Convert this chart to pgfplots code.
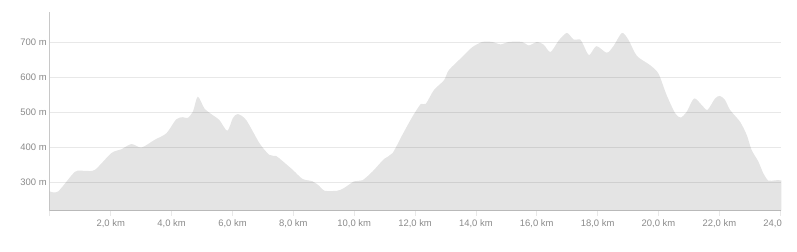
\documentclass[border=0pt]{standalone}
\usepackage{pgfplots}
\pgfplotsset{compat=1.18}
\usepackage{fontspec}
\setmainfont{Liberation Sans}
\definecolor{lbl}{HTML}{8A8A8A}
\definecolor{gridc}{HTML}{E8E8E8}
\definecolor{axc}{HTML}{C8C8C8}
\begin{document}
\begin{tikzpicture}[x=1bp,y=1bp]
\begin{axis}[
  at={(0,0)}, anchor=south west,
  scale only axis, width=733bp, height=199bp,
  xmin=0, xmax=24.04, ymin=218, ymax=788,
  axis x line*=bottom, axis y line*=left,
  x axis line style={-, draw=axc, line width=1.2bp},
  y axis line style={-, draw=axc, line width=0.8bp},
  xtick={2,4,...,24},
  xticklabels={{2,0 km},{4,0 km},{6,0 km},{8,0 km},{10,0 km},{12,0 km},{14,0 km},{16,0 km},{18,0 km},{20,0 km},{22,0 km},{24,0\phantom{ km}}},
  ytick={300,400,...,700},
  yticklabels={300 m,400 m,500 m,600 m,700 m},
  ymajorgrids, grid style={draw=gridc, line width=0.8bp},
  tick align=outside,
  xtick style={draw=gridc, line width=0.8bp},
  x tick label style={font=\fontsize{9.5}{11}\selectfont, text=lbl, inner sep=0pt, anchor=north, yshift=-4bp},
  ytick style={draw=none},
  major tick length=5bp,
  y tick label style={font=\fontsize{9.5}{11}\selectfont, text=lbl, inner sep=0pt, anchor=east, xshift=2bp},
  extra y ticks={218,788}, extra y tick labels={},
  extra y tick style={grid=none, tick style={draw=axc, line width=0.8bp}},
  extra x ticks={0}, extra x tick labels={},
  extra x tick style={tick style={draw=axc, line width=0.8bp}},
  axis on top=false,
]
\addplot[fill=black, fill opacity=0.105, draw=none, smooth, tension=0.45] coordinates {
(0.00,273) (0.27,273) (0.82,329) (1.15,332) (1.48,335) (2.02,383) (2.35,394)
(2.68,409) (3.01,399) (3.44,421) (3.83,440) (4.15,480) (4.37,486) (4.53,484)
(4.70,502) (4.86,545) (5.08,511) (5.35,492) (5.57,478) (5.83,447) (6.01,483)
(6.17,495) (6.45,478) (6.89,411) (7.21,378) (7.43,375) (7.54,368) (7.98,335)
(8.30,309) (8.63,302) (8.85,289) (9.02,275) (9.45,275) (9.67,283) (10.00,302)
(10.27,305) (10.60,330) (10.98,366) (11.26,383) (11.58,435) (11.91,487)
(12.19,524) (12.35,524) (12.62,564) (12.95,592) (13.11,621) (13.55,659)
(13.88,687) (14.21,702) (14.53,702) (14.81,695) (15.08,702) (15.52,702)
(15.74,692) (16.01,702) (16.23,694) (16.45,673) (16.72,706) (16.99,728)
(17.21,709) (17.43,709) (17.54,692) (17.72,664) (17.96,690) (18.30,671)
(18.52,690) (18.80,728) (19.02,707) (19.29,662) (19.73,635) (20.00,611)
(20.27,549) (20.55,497) (20.73,485) (20.93,502) (21.17,540) (21.42,521)
(21.61,507) (21.86,540) (22.02,547) (22.19,535) (22.35,507) (22.68,473)
(22.90,435) (23.06,392) (23.28,359) (23.44,326) (23.61,304) (23.83,305)
(24.04,305)
} \closedcycle;
\end{axis}
\path[use as bounding box] (-50bp,-41bp) rectangle (747bp,211bp);
\end{tikzpicture}
\end{document}
